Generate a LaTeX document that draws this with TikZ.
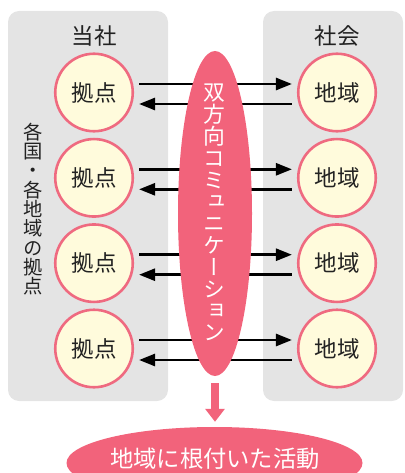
\documentclass[tikz,border=0pt]{standalone}
\usepackage{fontspec}
\setmainfont{Noto Sans CJK JP}
\newfontfamily\vjp[RawFeature=+vert]{Noto Sans CJK JP}
\usetikzlibrary{arrows.meta,shapes.geometric}
\definecolor{panelgray}{HTML}{E4E4E4}
\definecolor{pinkc}{HTML}{F2637B}
\definecolor{circfill}{HTML}{FFFBDC}
\definecolor{circline}{HTML}{EF6A80}
\definecolor{txt}{HTML}{222222}
\tikzset{
  panel/.style={fill=panelgray, rounded corners=11pt, draw=none},
  spot/.style={circle, draw=circline, line width=2.6pt, fill=circfill, minimum size=77.5pt, inner sep=0pt, text=txt, font=\fontsize{22.5}{24}\selectfont},
  ttl/.style={text=txt, font=\fontsize{22.5}{24}\selectfont, inner sep=0pt},
  flow/.style={line width=2.6pt, -{Triangle[length=16pt,width=12pt]}},
  pinkblob/.style={ellipse, fill=pinkc, draw=none, inner sep=0pt},
  downarr/.style={draw=pinkc, line width=8pt, -{Triangle[length=13pt,width=19pt]}},
}
\begin{document}
\begin{tikzpicture}[x=1pt,y=-1pt]
\useasboundingbox (0,0) rectangle (404,473);
\clip (0,0) rectangle (404,473);
% panels
\path[panel] (8,11) rectangle (168,401);
\path[panel] (263,11) rectangle (403,401);
% titles
\node[ttl] (tL) at (94,36) {当社};
\node[ttl] (tR) at (337,36) {社会};
% left vertical label
\node[text=txt, inner sep=0pt, align=center, font=\vjp\fontsize{19.3}{19.3}\selectfont] (side) at (33,209)
  {各\\国\\・\\各\\地\\域\\の\\拠\\点};
% circles
\foreach \i/\y in {1/92.5,2/177.8,3/263.2,4/348.5}{
  \node[spot] (L\i) at (94,\y) {拠点};
  \node[spot] (R\i) at (337,\y) {地域};
}
% arrows
\foreach \i in {1,2,3,4}{
  \draw[flow] ([xshift=5pt,yshift=8.5pt]L\i.east) -- ([xshift=-5pt,yshift=8.5pt]R\i.west);
  \draw[flow] ([xshift=-5pt,yshift=-11.5pt]R\i.west) -- ([xshift=5pt,yshift=-11.5pt]L\i.east);
}
% central ellipse
\node[pinkblob, minimum width=74pt, minimum height=325pt] (comm) at (215,213.5) {};
\node[text=white, inner sep=0pt, align=center, font=\vjp\fontsize{21.8}{21.8}\selectfont] (commtext) at (214,212.5)
  {双\\方\\向\\コ\\ミ\\ュ\\ニ\\ケ\\ー\\シ\\ョ\\ン};
% bottom ellipse
\node[pinkblob, minimum width=296pt, minimum height=72pt] (act) at (214.5,463) {};
\node[text=white, inner sep=0pt, font=\fontsize{23.3}{24}\selectfont] (acttext) at (215,459) {地域に根付いた活動};
% down arrow
\draw[downarr, shorten <=7pt, shorten >=5pt] (comm.south) -- (comm.south |- act.north);
\end{tikzpicture}
\end{document}
